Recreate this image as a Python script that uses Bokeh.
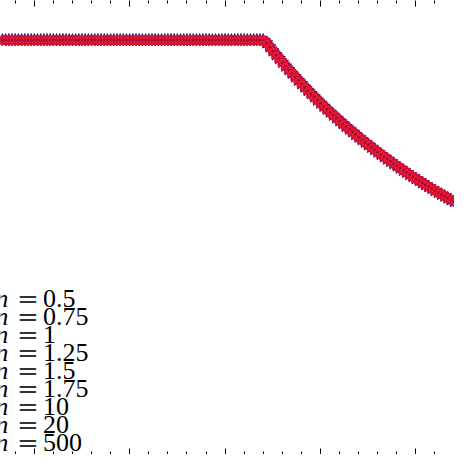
from bokeh.plotting import figure
from bokeh.models import Range1d, LinearAxis, FixedTicker, Label, ColumnDataSource, CustomJSTickFormatter
from bokeh.embed import file_html
from bokeh.resources import INLINE

# ---------------- data ----------------
x_vals = [
    2.0, 2.1, 2.2, 2.3, 2.4, 2.5, 2.6, 2.7, 2.8, 2.9,
    3.0, 3.1, 3.2, 3.3, 3.4, 3.5, 3.6, 3.7, 3.8, 3.9,
    4.0, 4.1, 4.2, 4.3, 4.4, 4.5, 4.6, 4.7, 4.8, 4.9,
    5.0, 5.1, 5.2, 5.3, 5.4, 5.5, 5.6, 5.7, 5.8, 5.9,
    6.0, 6.1, 6.2, 6.3, 6.4, 6.5, 6.6, 6.7, 6.8, 6.9,
    7.0, 7.1, 7.2, 7.3, 7.4, 7.5, 7.6, 7.7, 7.8, 7.9,
    8.0, 8.1, 8.2, 8.3, 8.4, 8.5, 8.6, 8.7, 8.8, 8.9,
    9.0, 9.1, 9.2, 9.3, 9.4, 9.5, 9.6, 9.7, 9.8, 9.9,
    10.0, 10.1, 10.2, 10.3, 10.4, 10.5, 10.6, 10.7, 10.8, 10.9,
    11.0, 11.1, 11.2, 11.3, 11.4, 11.5, 11.6, 11.7, 11.8, 11.9,
    12.0, 12.1, 12.2, 12.3, 12.4, 12.5, 12.6, 12.7, 12.8, 12.9,
    13.0, 13.1, 13.2, 13.3, 13.4, 13.5, 13.6, 13.7, 13.8, 13.9,
    14.0, 14.1, 14.2, 14.3, 14.4, 14.5, 14.6, 14.7, 14.8, 14.9,
    15.0, 15.1, 15.2, 15.3, 15.4, 15.5, 15.6, 15.7, 15.8, 15.9,
    16.0, 16.1, 16.2,
]
y_vals = [
    1.0, 1.0, 1.0, 1.0, 1.0, 1.0, 1.0, 1.0, 1.0, 1.0,
    1.0, 1.0, 1.0, 1.0, 1.0, 1.0, 1.0, 1.0, 1.0, 1.0,
    1.0, 1.0, 1.0, 1.0, 1.0, 1.0, 1.0, 1.0, 1.0, 1.0,
    1.0, 1.0, 1.0, 1.0, 1.0, 1.0, 1.0, 1.0, 1.0, 1.0,
    1.0, 1.0, 1.0, 1.0, 1.0, 1.0, 1.0, 1.0, 1.0, 1.0,
    1.0, 1.0, 1.0, 1.0, 1.0, 1.0, 1.0, 1.0, 1.0, 1.0,
    1.0, 1.0, 1.0, 1.0, 1.0, 1.0, 1.0, 1.0, 1.0, 1.0,
    1.0, 1.0, 1.0, 1.0, 1.0, 1.0, 1.0, 1.0, 1.0, 1.0,
    1.0, 1.0, 1.0, 0.9933, 0.9836, 0.9740, 0.9646, 0.9554, 0.9463, 0.9373,
    0.9285, 0.9199, 0.9114, 0.9030, 0.8948, 0.8866, 0.8787, 0.8708, 0.8631, 0.8554,
    0.8479, 0.8405, 0.8332, 0.8261, 0.8190, 0.8120, 0.8052, 0.7984, 0.7917, 0.7851,
    0.7786, 0.7722, 0.7659, 0.7597, 0.7536, 0.7475, 0.7416, 0.7357, 0.7299, 0.7241,
    0.7185, 0.7129, 0.7074, 0.7019, 0.6965, 0.6912, 0.6860, 0.6808, 0.6757, 0.6707,
    0.6657, 0.6608, 0.6559, 0.6511, 0.6464, 0.6417, 0.6370, 0.6325, 0.6279, 0.6235,
    0.6191, 0.6147, 0.6104,
]
n_labels = ["0.5", "0.75", "1", "1.25", "1.5", "1.75", "10", "20", "500"]
major_ticks = [3, 6, 9, 12, 15]
minor_ticks = [2.4, 3.6, 4.2, 4.8, 5.4, 6.6, 7.2, 7.8, 8.4, 9.6, 10.2,
               10.8, 11.4, 12.6, 13.2, 13.8, 14.4, 15.6, 16.2]

# ---------------- layout ----------------
W = H = 454
S = W / 470.0
X0, X1 = 1.9367, 16.215
Y0, Y1 = 0.0, 1.0956

p = figure(width=W, height=H, output_backend="svg", toolbar_location=None,
           x_range=Range1d(X0, X1), y_range=Range1d(Y0, Y1),
           x_axis_location=None, y_axis_location=None, min_border=0)
p.outline_line_color = None
p.xgrid.visible = False
p.ygrid.visible = False
p.background_fill_color = "white"
p.border_fill_color = "white"

for loc in ("above", "below"):
    ax = LinearAxis(ticker=FixedTicker(ticks=major_ticks, minor_ticks=minor_ticks),
                    formatter=CustomJSTickFormatter(code="return ''"),
                    major_tick_in=6, major_tick_out=0,
                    minor_tick_in=3, minor_tick_out=0,
                    axis_line_color=None,
                    major_tick_line_color="black", minor_tick_line_color="black",
                    major_label_text_font_size="0px", major_label_standoff=0)
    p.add_layout(ax, loc)

src = ColumnDataSource(dict(x=x_vals, y=y_vals))

styles = [
    dict(marker="star", size=13, fill_color="#231a9c", line_color="#1a0f6e"),
    dict(marker="x", size=11, fill_color=None, line_color="#4b1a9a"),
    dict(marker="cross", size=11, fill_color=None, line_color="#6a2aa6"),
    dict(marker="asterisk", size=11, fill_color=None, line_color="#3a2ab0"),
    dict(marker="diamond", size=10, fill_color="#8a2070", line_color="#8a2070"),
    dict(marker="triangle", size=9, fill_color="#c01048", line_color="#c01048"),
    dict(marker="square", size=8, fill_color="#d8123a", line_color="#d8123a"),
    dict(marker="circle", size=8, fill_color="#ec1a3e", line_color="#c8102e"),
    dict(marker="circle", size=3, fill_color="#a8102a", line_color=None),
]
for lab, st in zip(n_labels, styles):
    p.scatter("x", "y", source=src, line_width=1, **st)


def sx(px):
    return X0 + px * S / W * (X1 - X0)


def sy(py):
    return Y1 - py * S / H * (Y1 - Y0)


for i, lab in enumerate(n_labels):
    base = 309 + 18.6 * i
    p.add_layout(Label(x=sx(8), y=sy(base), text="n", text_align="right",
                       text_baseline="alphabetic", text_font="Liberation Serif",
                       text_font_style="italic", text_font_size="25px",
                       text_color="black"))
    p.add_layout(Label(x=sx(17), y=sy(base), text="=", text_align="left",
                       text_baseline="alphabetic", text_font="DejaVu Serif",
                       text_font_size="26px", text_color="#333333"))
    p.add_layout(Label(x=sx(44), y=sy(base), text=lab, text_align="left",
                       text_baseline="alphabetic", text_font="Liberation Serif",
                       text_font_size="26px", text_color="black"))

open("out.html", "w").write(file_html(p, INLINE))
